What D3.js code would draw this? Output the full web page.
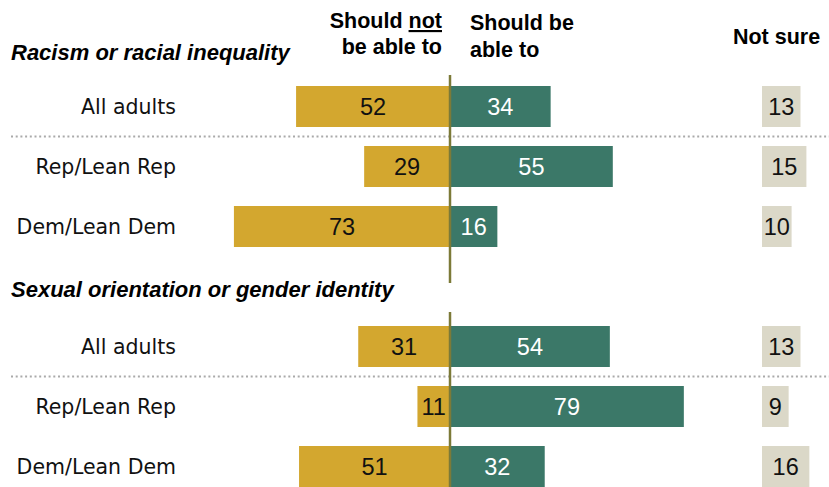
<!DOCTYPE html>
<html><head><meta charset="utf-8">
<script src="https://cdn.jsdelivr.net/npm/d3@7"></script>
<style>body{margin:0;background:#fff}</style>
</head><body><svg id="c" width="829" height="487"></svg>
<script>
const topics = ["Racism or racial inequality", "Sexual orientation or gender identity"];
const groups = ["All adults", "Rep/Lean Rep", "Dem/Lean Dem"];
const shouldNot = [[52, 29, 73], [31, 11, 51]];
const shouldBe = [[34, 55, 16], [54, 79, 32]];
const notSure = [[13, 15, 10], [13, 9, 16]];

const W = 829, H = 487;
const svg = d3.select("#c");
const center = 450, nsOrigin = 762;
const x = d3.scaleLinear().domain([0, 100]).range([0, 296]);
const sectionTop = [76.5, 316.5];
const titleY = [60, 297];
const gold = "#D3A72F", green = "#3B7868", beige = "#DBD8C8", axisCol = "#7C7A38";
const regFont = "'DejaVu Sans', sans-serif";
const numFont = "'Liberation Sans', Arial, sans-serif";
const boldFont = "'Liberation Sans', Arial, sans-serif";

// Headers
const hdr = svg.append("g").attr("font-family", boldFont).attr("font-weight", "bold")
  .attr("font-size", 21.5).attr("fill", "#000");
const t1 = hdr.append("text").attr("x", 442).attr("y", 28).attr("text-anchor", "end");
t1.append("tspan").text("Should ");
t1.append("tspan").attr("text-decoration", "underline").style("text-decoration", "underline").text("not");
hdr.append("text").attr("x", 442).attr("y", 54).attr("text-anchor", "end").text("be able to");
hdr.append("text").attr("x", 470).attr("y", 30).text("Should be");
hdr.append("text").attr("x", 470).attr("y", 57).text("able to");
hdr.append("text").attr("x", 776.5).attr("y", 44).attr("text-anchor", "middle").text("Not sure");

topics.forEach((topic, s) => {
  const y = d3.scaleBand().domain(groups)
    .range([sectionTop[s], sectionTop[s] + 180])
    .paddingInner(19 / 60).paddingOuter(19 / 120);
  const g = svg.append("g");
  const rows = groups.map((grp, i) => ({grp, no: shouldNot[s][i], yes: shouldBe[s][i], ns: notSure[s][i]}));

  // title
  g.append("text").attr("x", 11).attr("y", titleY[s])
    .attr("font-family", boldFont).attr("font-weight", "bold").attr("font-style", "italic")
    .attr("font-size", 22).attr("fill", "#000").text(topic);

  // row labels
  g.selectAll(".lab").data(rows).join("text")
    .attr("x", 176).attr("y", d => y(d.grp) + y.bandwidth() / 2 + 7.5)
    .attr("text-anchor", "end").attr("font-family", regFont).attr("font-size", 20.5)
    .attr("fill", "#111").text(d => d.grp);

  // bars
  g.selectAll(".no").data(rows).join("rect")
    .attr("x", d => center - x(d.no)).attr("y", d => y(d.grp))
    .attr("width", d => x(d.no)).attr("height", y.bandwidth()).attr("fill", gold);
  g.selectAll(".yes").data(rows).join("rect")
    .attr("x", center).attr("y", d => y(d.grp))
    .attr("width", d => x(d.yes)).attr("height", y.bandwidth()).attr("fill", green);
  g.selectAll(".ns").data(rows).join("rect")
    .attr("x", nsOrigin).attr("y", d => y(d.grp))
    .attr("width", d => x(d.ns)).attr("height", y.bandwidth()).attr("fill", beige);

  const num = (sel) => sel.attr("font-family", numFont).attr("font-size", 23.5).attr("text-anchor", "middle");
  const ny = d => y(d.grp) + y.bandwidth() / 2 + 8.4;
  num(g.selectAll(".tno").data(rows).join("text"))
    .attr("x", d => center - x(d.no) / 2).attr("y", ny)
    .attr("fill", "#111").text(d => d.no);
  num(g.selectAll(".tyes").data(rows).join("text"))
    .attr("x", d => center + x(d.yes) / 2).attr("y", ny)
    .attr("fill", "#fff").text(d => d.yes);
  num(g.selectAll(".tns").data(rows).join("text"))
    .attr("x", d => nsOrigin + x(d.ns) / 2).attr("y", ny)
    .attr("fill", "#111").text(d => d.ns);

  // dotted separator
  const sepY = y(groups[1]) - y.step() * y.paddingInner() / 2;
  g.append("line").attr("x1", 11).attr("x2", W).attr("y1", sepY).attr("y2", sepY)
    .attr("stroke", "#AAAAAA").attr("stroke-width", 2).attr("stroke-dasharray", "2,2.7");

  // center line
  const y1 = titleY[s] + 15;
  const y2 = s < topics.length - 1 ? titleY[s + 1] - 14 : H;
  g.append("line").attr("x1", center).attr("x2", center).attr("y1", y1).attr("y2", y2)
    .attr("stroke", axisCol).attr("stroke-width", 2.5);
});
</script>
</body></html>
